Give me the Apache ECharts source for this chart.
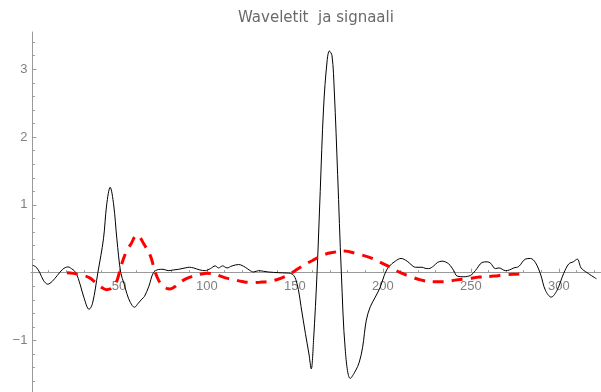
<!DOCTYPE html>
<html>
<head>
<meta charset="utf-8">
<script src="https://cdn.jsdelivr.net/npm/echarts@6/dist/echarts.min.js"></script>
<style>html,body{margin:0;padding:0;background:#fff;}#c{width:601px;height:392px;}</style>
</head>
<body>
<div id="c"></div>
<script>
const titleText = "Waveletit  ja signaali";

const signalX = [1,3,5,7,9.5,12,15,18,21,23,25.5,28,30,33,35,38,41.2,43,45,47,48.8,51,53,54.5,56.5,58.8,61,63,64.5,67,69.6,72.5,75,78,81,84,87.6,90,92.4,96,99,102,104.7,106.6,108.9,111.4,114.3,118,121.8,124,126.5,129.4,132.2,135,140.7,145.5,147.5,149.3,150.5,152,153.5,156,158,159.3,160.6,162.6,164.4,166.3,168.3,169.6,171.1,172.4,174.3,176.4,178.7,181.5,184.4,186.6,188.5,190.6,192.9,195.7,198.6,200.8,203.3,207.1,210.3,213.8,216,218.5,222.3,224,226,228.9,231,233.7,237.4,240.3,242.2,246,249.8,252.6,256.4,259.3,261.2,264,266,269.7,272,274.4,277.2,281,283.9,286.7,289.6,292.4,295.7,299,302.8,305.7,308.2,310.5,312.7,316.1,321.4];
const signalY = [0.11,0.08,0.0,-0.11,-0.17,-0.13,-0.04,0.05,0.085,0.06,0.0,-0.18,-0.36,-0.54,-0.45,0.0,0.5,1.0,1.26,1.0,0.5,0.0,-0.17,-0.31,-0.44,-0.51,-0.45,-0.39,-0.35,-0.2,0.0,0.047,0.05,0.03,0.04,0.05,0.07,0.08,0.07,0.04,0.03,0.06,0.1,0.07,0.1,0.07,0.1,0.12,0.08,0.04,0.01,0.03,0.02,0.01,0.0,-0.005,-0.01,-0.04,-0.1,-0.25,-0.5,-0.9,-1.2,-1.42,-1.0,0.0,1.2,2.43,3.12,3.27,3.2,2.68,1.45,0.0,-1.16,-1.56,-1.45,-1.32,-1.1,-0.7,-0.5,-0.36,-0.21,-0.04,0.085,0.17,0.21,0.17,0.12,0.08,0.08,0.065,0.06,0.1,0.15,0.17,0.13,0.03,-0.05,-0.06,-0.04,0.03,0.15,0.16,0.14,0.06,0.07,0.03,0.04,0.07,0.09,0.2,0.21,0.15,-0.02,-0.26,-0.36,-0.26,-0.01,0.13,0.16,0.2,0.07,0.0,-0.09];

const waveletX = [20.4,24,27.4,31,33.6,36,38.7,41,43,45,46.5,48.5,50,51.6,54.5,57,59,60.5,62,64,67.7,69.6,71.6,74,77,79,81,84,86.7,90,93.3,97,100,104,107.6,111,115,120,125,130,135,140,145,149,152,155,160,166,172,178,185,192,198,204,210,216,222,229,236,241,248,255,263,270,277,281];
const waveletY = [0,-0.01,-0.03,-0.05,-0.08,-0.13,-0.19,-0.23,-0.25,-0.24,-0.21,-0.14,-0.02,0.13,0.33,0.43,0.53,0.555,0.52,0.43,0.26,0.1,-0.06,-0.17,-0.23,-0.24,-0.22,-0.16,-0.11,-0.07,-0.04,-0.02,-0.01,-0.02,-0.05,-0.08,-0.1,-0.13,-0.145,-0.14,-0.13,-0.1,-0.05,0.01,0.06,0.11,0.18,0.26,0.3,0.32,0.28,0.23,0.16,0.085,0.0,-0.06,-0.11,-0.135,-0.135,-0.11,-0.09,-0.065,-0.05,-0.03,-0.02,-0.01];

const xMajorTicks = [50,100,150,200,250,300];
const xMinorTicks = [10,20,30,40,60,70,80,90,110,120,130,140,160,170,180,190,210,220,230,240,260,270,280,290,310,320];
const yMajorTicks = [-1,1,2,3];
const yMinorTicks = [-1.6,-1.4,-1.2,-0.8,-0.6,-0.4,-0.2,0.2,0.4,0.6,0.8,1.2,1.4,1.6,1.8,2.2,2.4,2.6,2.8,3.2,3.4];

const X_MIN = 0, X_MAX = 324, Y_MIN = -1.76, Y_MAX = 3.55;
const GRID_LEFT = 31, GRID_TOP = 32, GRID_H = 360;
// pixel distance from bottom of the chart to the y = 0 line (the x axis sits there)
const zeroFromBottom = 392 - (GRID_TOP + GRID_H * Y_MAX / (Y_MAX - Y_MIN));
const axisGray = '#9a9a9a';
const labelGray = '#808080';
const labelFont = 'Liberation Sans';

const pairs = (xs, ys) => xs.map((x, i) => [x, ys[i]]);

const chart = echarts.init(document.getElementById('c'), null, {renderer: 'canvas'});
chart.setOption({
  animation: false,
  backgroundColor: '#ffffff',
  title: {
    text: titleText,
    left: 238,
    top: 11,
    padding: 0,
    textStyle: {fontFamily: 'DejaVu Sans', fontSize: 15, fontWeight: 'normal', color: '#6a6a6a'}
  },
  grid: [
    {left: GRID_LEFT, right: 0, top: GRID_TOP, bottom: 0, containLabel: false, outerBoundsMode: 'none'},
    {left: GRID_LEFT, right: 0, top: GRID_TOP, bottom: zeroFromBottom, containLabel: false, outerBoundsMode: 'none'}
  ],
  xAxis: [
    {
      gridIndex: 0, type: 'value', min: X_MIN, max: X_MAX, show: false
    },
    {
      gridIndex: 1, type: 'value', min: X_MIN, max: X_MAX, position: 'bottom',
      axisLine: {show: true, onZero: false, lineStyle: {color: axisGray, width: 1}},
      axisTick: {show: true, inside: true, length: 4, customValues: xMajorTicks, lineStyle: {color: axisGray}},
      axisLabel: {show: true, customValues: xMajorTicks, margin: 7, color: labelGray, fontFamily: labelFont, fontSize: 13},
      splitLine: {show: false}
    },
    {
      gridIndex: 1, type: 'value', min: X_MIN, max: X_MAX, position: 'bottom',
      axisLine: {show: false, onZero: false},
      axisTick: {show: true, inside: true, length: 2.5, customValues: xMinorTicks, lineStyle: {color: axisGray}},
      axisLabel: {show: false},
      splitLine: {show: false}
    }
  ],
  yAxis: [
    {
      gridIndex: 0, type: 'value', min: Y_MIN, max: Y_MAX, position: 'left', offset: -1.4,
      axisLine: {show: true, onZero: false, lineStyle: {color: axisGray, width: 1}},
      axisTick: {show: true, inside: true, length: 4, customValues: yMajorTicks, lineStyle: {color: axisGray}},
      axisLabel: {show: true, customValues: yMajorTicks, margin: 5, color: labelGray, fontFamily: labelFont, fontSize: 13,
        formatter: v => (v < 0 ? '\u2212' + Math.abs(v) : String(v))},
      splitLine: {show: false}
    },
    {
      gridIndex: 0, type: 'value', min: Y_MIN, max: Y_MAX, position: 'left', offset: -1.4,
      axisLine: {show: false, onZero: false},
      axisTick: {show: true, inside: true, length: 2.5, customValues: yMinorTicks, lineStyle: {color: axisGray}},
      axisLabel: {show: false},
      splitLine: {show: false}
    },
    {
      gridIndex: 1, type: 'value', min: 0, max: Y_MAX, show: false
    }
  ],
  series: [
    {
      name: 'signaali', type: 'line', xAxisIndex: 0, yAxisIndex: 0,
      data: pairs(signalX, signalY),
      showSymbol: false, smooth: 0.35, z: 3,
      lineStyle: {color: '#000000', width: 1}
    },
    {
      name: 'wavelet', type: 'line', xAxisIndex: 0, yAxisIndex: 0,
      data: pairs(waveletX, waveletY),
      showSymbol: false, smooth: 0.4, z: 4,
      lineStyle: {color: '#ff0000', width: 3, type: [11, 8], cap: 'butt'}
    }
  ]
});
</script>
</body>
</html>
